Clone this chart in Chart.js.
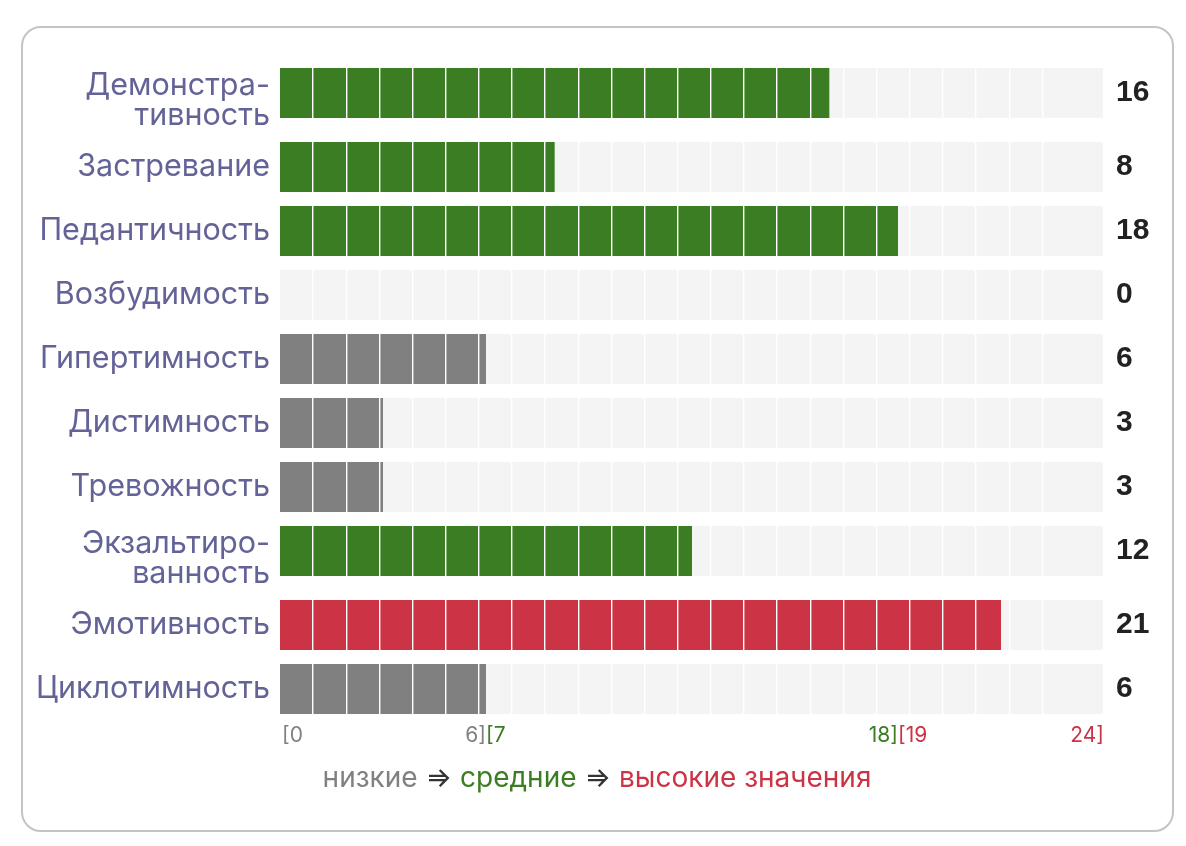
<!DOCTYPE html>
<html lang="ru">
<head>
    <meta charset="UTF-8">
    <title>Акцентуации характера</title>
    <script src="https://cdn.jsdelivr.net/npm/chart.js"></script>
    <style>
        body {
            margin: 0;
            padding: 0;
            background: #fff;
            font-family: Inter, "Liberation Sans", Arial, sans-serif;
        }
        .frame {
            position: absolute;
            left: 21px;
            top: 26px;
            width: 1149px;
            height: 802px;
            border: 2px solid #c4c4c4;
            border-radius: 20px;
        }
        .wrap {
            position: absolute;
            left: 0;
            top: 0;
            width: 1186px;
            height: 846px;
        }
        .legend {
            position: absolute;
            left: 0;
            width: 1194px;
            top: 760px;
            line-height: 34px;
            text-align: center;
            font-size: 28px;
            color: #333;
        }
    </style>
</head>
<body>
    <div class="frame"></div>
    <div class="wrap"><canvas id="myChart"></canvas></div>
    <div class="legend">
        <span style="color:#808080">низкие</span> ⇒
        <span style="color:#3a7d22">средние</span> ⇒
        <span style="color:#cc3344">высокие значения</span>
    </div>

    <script>
        // данные
        const categories = [
            ['Демонстра-', 'тивность'],
            'Застревание',
            'Педантичность',
            'Возбудимость',
            'Гипертимность',
            'Дистимность',
            'Тревожность',
            ['Экзальтиро-', 'ванность'],
            'Эмотивность',
            'Циклотимность'
        ];
        const scores = [16, 8, 18, 0, 6, 3, 3, 12, 21, 6];
        const maxScore = 24;

        // диапазоны: низкие / средние / высокие
        const bandStart = [0, 7, 19];
        const bandEnd = [6, 18, 24];
        const bandColors = ['#808080', '#3a7d22', '#cc3344'];

        const fontFamily = 'Inter, "Liberation Sans", Arial, sans-serif';

        // строки с подписью в две строки выше обычных (как в вёрстке списка)
        const extraPerLine = 10 / 64;
        const labelShift = 8 / 64;
        const lineCounts = categories.map(c => Array.isArray(c) ? c.length : 1);
        const rowPos = [];
        let acc = 0;
        lineCounts.forEach(n => {
            rowPos.push(acc);
            acc += 1 + (n - 1) * extraPerLine;
        });
        const yMin = -0.5;
        const yMax = rowPos[rowPos.length - 1] + 0.5;

        function colorFor(v) {
            for (let i = 0; i < bandEnd.length; i++) {
                if (v <= bandEnd[i]) return bandColors[i];
            }
            return bandColors[bandColors.length - 1];
        }

        // подписи диапазонов под осью
        const bandLabels = {
            id: 'bandLabels',
            afterDraw(chart) {
                const ctx = chart.ctx;
                const x = chart.scales.x;
                const y = chart.chartArea.bottom + 15;
                ctx.save();
                ctx.font = '21px ' + fontFamily;
                ctx.textBaseline = 'middle';
                for (let i = 0; i < bandStart.length; i++) {
                    ctx.fillStyle = bandColors[i];
                    ctx.textAlign = 'left';
                    const from = i === 0 ? bandStart[i] : bandEnd[i - 1];
                    ctx.fillText('[' + bandStart[i], x.getPixelForValue(from) + (i === 0 ? 2 : 0), y);
                    ctx.textAlign = 'right';
                    ctx.fillText(bandEnd[i] + ']', x.getPixelForValue(bandEnd[i]), y);
                }
                ctx.restore();
            }
        };

        const ctx = document.getElementById('myChart').getContext('2d');
        new Chart(ctx, {
            type: 'bar',
            data: {
                datasets: [{
                    label: 'Баллы',
                    data: rowPos.map((p, i) => ({ x: scores[i], y: p })),
                    backgroundColor: scores.map(colorFor),
                    order: 1
                }, {
                    label: 'Шкала',
                    data: rowPos.map(p => ({ x: maxScore, y: p })),
                    backgroundColor: '#f4f4f4',
                    order: 2
                }]
            },
            options: {
                indexAxis: 'y',
                responsive: true,
                maintainAspectRatio: false,
                animation: false,
                datasets: {
                    bar: {
                        grouped: false,
                        barThickness: 50,
                        inflateAmount: 0
                    }
                },
                layout: {
                    padding: { left: 0, right: 0, top: 61, bottom: 125 }
                },
                plugins: {
                    legend: { display: false },
                    tooltip: { enabled: false }
                },
                scales: {
                    x: {
                        min: 0,
                        max: maxScore,
                        display: false
                    },
                    // белые полоски-разделители поверх столбцов
                    xGrid: {
                        position: 'top',
                        min: 0,
                        max: 24.86,
                        ticks: { display: false, stepSize: 1 },
                        border: { display: false },
                        grid: {
                            z: 1,
                            drawTicks: false,
                            lineWidth: 1.4,
                            color: (c) => c.index === 0 ? 'rgba(0,0,0,0)' : '#ffffff'
                        },
                        afterFit(scale) { scale.height = 0; }
                    },
                    y: {
                        type: 'linear',
                        reverse: true,
                        offset: false,
                        min: yMin,
                        max: yMax,
                        grid: { display: false, drawTicks: false, offset: false },
                        border: { display: false },
                        afterBuildTicks(scale) {
                            scale.ticks = rowPos.map((p, i) => ({ value: p + (lineCounts[i] - 1) * labelShift }));
                        },
                        ticks: {
                            autoSkip: false,
                            color: '#636398',
                            padding: 10,
                            font: { family: fontFamily, size: 30.5, lineHeight: 0.99 },
                            callback: (v, i) => categories[i]
                        },
                        afterFit(scale) { scale.width = 280; }
                    },
                    yValues: {
                        type: 'linear',
                        position: 'right',
                        reverse: true,
                        offset: false,
                        min: yMin,
                        max: yMax,
                        grid: { display: false, drawTicks: false, offset: false },
                        border: { display: false },
                        afterBuildTicks(scale) {
                            scale.ticks = rowPos.map(p => ({ value: p }));
                        },
                        ticks: {
                            autoSkip: false,
                            color: '#222',
                            padding: 12,
                            font: { family: '"Liberation Sans", Arial, sans-serif', size: 30, weight: 'bold' },
                            callback: (v, i) => String(scores[i])
                        },
                        afterFit(scale) { scale.width = 82; }
                    }
                }
            },
            plugins: [bandLabels]
        });
    </script>
</body>
</html>
